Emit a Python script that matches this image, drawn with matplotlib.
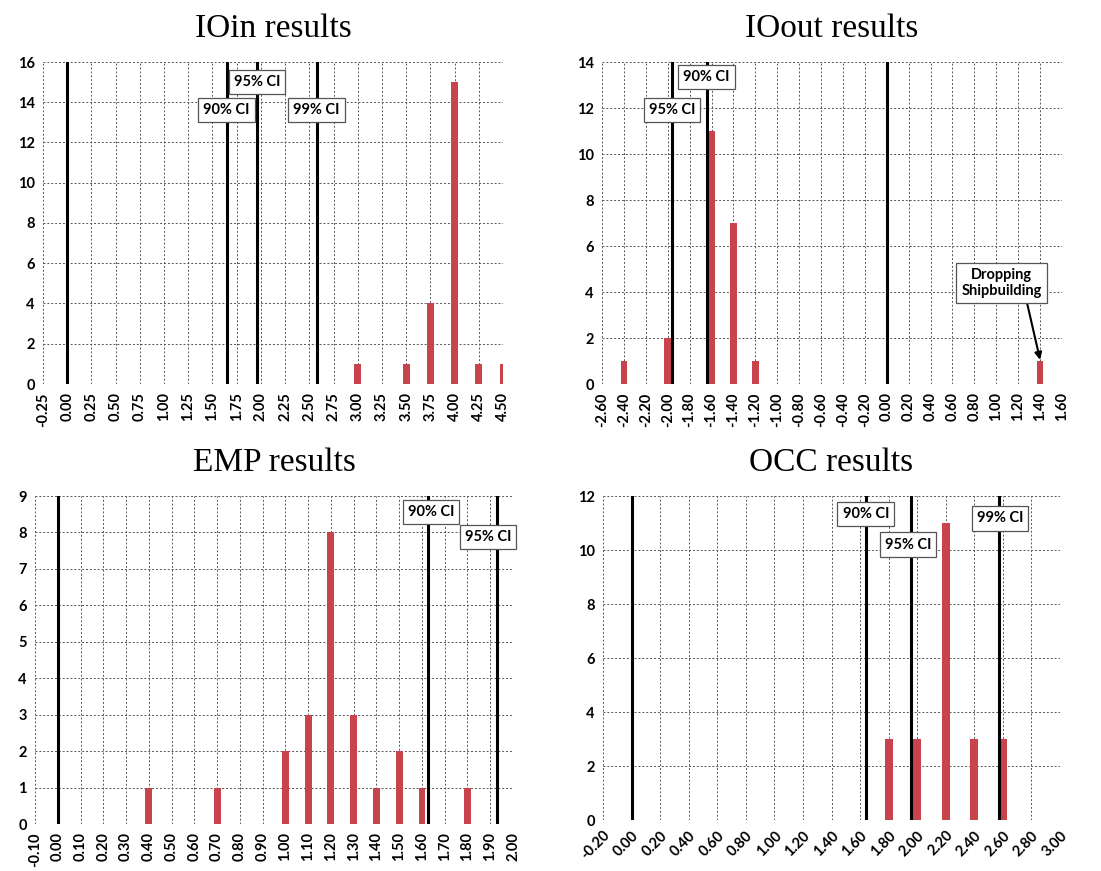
import matplotlib
matplotlib.use("Agg")
import matplotlib.pyplot as plt
import numpy as np

# --- datos ---
ioin_bins = [3.00, 3.50, 3.75, 4.00, 4.25, 4.50]
ioin_counts = [1, 1, 4, 15, 1, 1]
ioin_ticks = [-0.25, 0.00, 0.25, 0.50, 0.75, 1.00, 1.25, 1.50, 1.75, 2.00,
              2.25, 2.50, 2.75, 3.00, 3.25, 3.50, 3.75, 4.00, 4.25, 4.50]
ioin_ci = [1.645, 1.96, 2.576]
ioin_ci_labels = ["90% CI", "95% CI", "99% CI"]

ioout_bins = [-2.40, -2.00, -1.60, -1.40, -1.20, 1.40]
ioout_counts = [1, 2, 11, 7, 1, 1]
ioout_ticks = [-2.60, -2.40, -2.20, -2.00, -1.80, -1.60, -1.40, -1.20, -1.00,
               -0.80, -0.60, -0.40, -0.20, 0.00, 0.20, 0.40, 0.60, 0.80,
               1.00, 1.20, 1.40, 1.60]
ioout_ci = [-1.645, -1.96]
ioout_ci_labels = ["90% CI", "95% CI"]

emp_bins = [0.40, 0.70, 1.00, 1.10, 1.20, 1.30, 1.40, 1.50, 1.60, 1.80]
emp_counts = [1, 1, 2, 3, 8, 3, 1, 2, 1, 1]
emp_ticks = [-0.10, 0.00, 0.10, 0.20, 0.30, 0.40, 0.50, 0.60, 0.70, 0.80,
             0.90, 1.00, 1.10, 1.20, 1.30, 1.40, 1.50, 1.60, 1.70, 1.80,
             1.90, 2.00]
emp_ci = [1.625, 1.93]
emp_ci_labels = ["90% CI", "95% CI"]

occ_bins = [1.80, 2.00, 2.20, 2.40, 2.60]
occ_counts = [3, 3, 11, 3, 3]
occ_ticks = [-0.20, 0.00, 0.20, 0.40, 0.60, 0.80, 1.00, 1.20, 1.40, 1.60,
             1.80, 2.00, 2.20, 2.40, 2.60, 2.80, 3.00]
occ_ci = [1.645, 1.96, 2.576]
occ_ci_labels = ["90% CI", "95% CI", "99% CI"]

# --- estilo ---
rojo = "#C8434B"
fuente = "Lato"
W, H = 1101, 871

fig = plt.figure(figsize=(W / 100, H / 100), dpi=100)


def panel(px, titulo, bins, counts, ticks, ymax, ystep, ancho, ci, ci_labels,
          ci_pos, rot=90):
    # px = (izq, arriba, der, abajo) en pixeles
    l, t, r, b = px
    ax = fig.add_axes([l / W, 1 - b / H, (r - l) / W, (b - t) / H])
    ax.bar(bins, counts, width=ancho, color=rojo, zorder=3, clip_on=True)
    ax.axvline(0.0, color="black", lw=2.2, zorder=4)
    for v in ci:
        ax.axvline(v, color="black", lw=2.2, zorder=4)
    for lab, (x, y) in zip(ci_labels, ci_pos):
        ax.text(x, y, lab, ha="center", va="center", fontsize=10.5,
                fontweight="bold", family=fuente, zorder=6,
                bbox=dict(boxstyle="square,pad=0.35", fc="white",
                          ec="#555555", lw=0.9))
    ax.set_xlim(ticks[0], ticks[-1])
    ax.set_ylim(0, ymax)
    ax.set_xticks(ticks)
    ax.set_xticklabels([f"{v:.2f}" for v in ticks], rotation=rot,
                       fontsize=10.5, fontweight="bold", family=fuente,
                       ha="center" if rot == 90 else "right",
                       rotation_mode="default" if rot == 90 else "anchor")
    ax.set_yticks(np.arange(0, ymax + 0.01, ystep))
    ax.set_yticklabels([f"{v:g}" for v in np.arange(0, ymax + 0.01, ystep)],
                       fontsize=10.5, fontweight="bold", family=fuente)
    ax.grid(True, color="#555555", ls=(0, (2, 2)), lw=0.7, zorder=0)
    for s in ax.spines.values():
        s.set_visible(False)
    ax.tick_params(length=0, pad=6)
    fig.text((l + r) / 2 / W, 1 - (t - 33) / H, titulo, ha="center",
             va="center", fontsize=24, family="Liberation Serif")
    return ax


ax1 = panel((43, 62, 503, 384), "IOin results", ioin_bins, ioin_counts,
            ioin_ticks, 16, 2, 0.07, ioin_ci, ioin_ci_labels,
            [(1.645, 13.6), (1.96, 15.0), (2.576, 13.6)])

ax2 = panel((602, 62, 1062, 384), "IOout results", ioout_bins, ioout_counts,
            ioout_ticks, 14, 2, 0.062, ioout_ci, ioout_ci_labels,
            [(-1.645, 13.35), (-1.96, 11.9)])
ax2.annotate("Dropping\nShipbuilding", xy=(1.40, 1.05), xytext=(1.05, 4.4),
             ha="center", va="center", fontsize=10.5, fontweight="bold",
             family=fuente, zorder=6,
             bbox=dict(boxstyle="square,pad=0.35", fc="white", ec="#555555",
                       lw=0.9),
             arrowprops=dict(arrowstyle="-|>", color="black", lw=1.5,
                             shrinkA=0, shrinkB=0,
                             relpos=(0.8, 0.0)))

ax3 = panel((35, 496, 513, 824), "EMP results", emp_bins, emp_counts,
            emp_ticks, 9, 1, 0.03, emp_ci, emp_ci_labels,
            [(1.64, 8.56), (1.89, 7.87)])

ax4 = panel((603, 496, 1060, 820), "OCC results", occ_bins, occ_counts,
            occ_ticks, 12, 2, 0.056, occ_ci, occ_ci_labels,
            [(1.64, 11.33), (1.935, 10.2), (2.58, 11.17)], rot=45)

fig.savefig("out.png", dpi=100)
